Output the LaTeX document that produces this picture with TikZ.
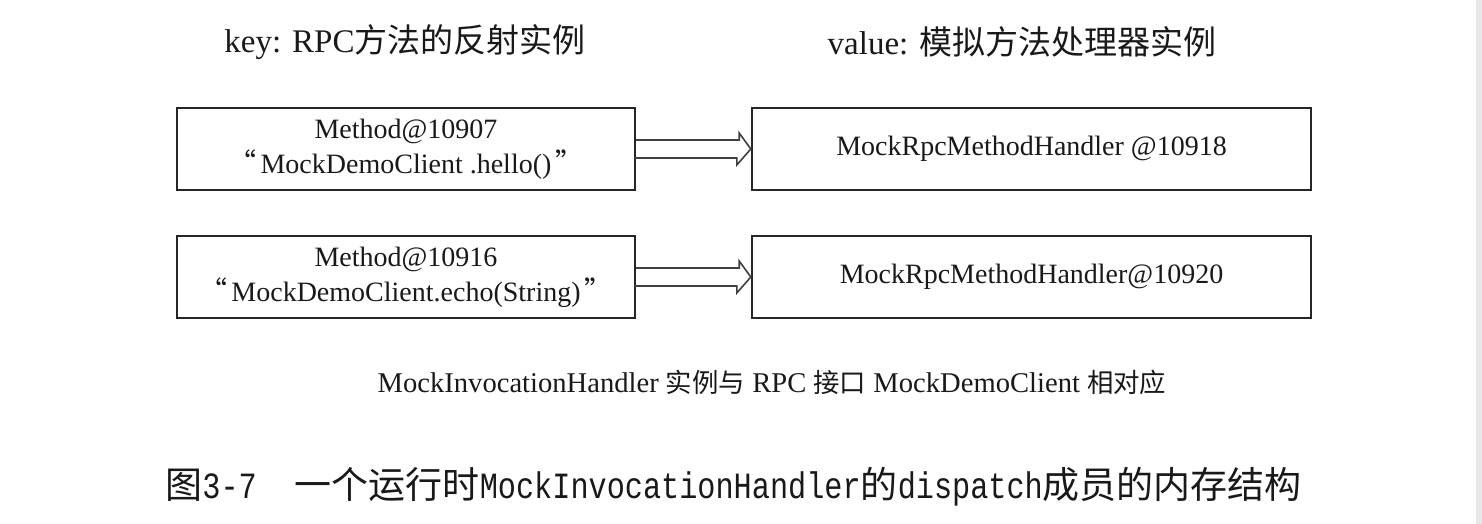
\documentclass[tikz,border=0pt]{standalone}
\usepackage{fontspec}
\setmainfont{Liberation Serif}
\newfontfamily\cjk{Noto Sans CJK SC}
\newfontfamily\capmono[FakeStretch=0.817]{Liberation Mono}
\usetikzlibrary{calc}
\tikzset{
  x=0.5pt,y=-0.5pt,
}
\tikzstyle{every node}=[text=black!90,inner sep=0pt]
\tikzstyle{membox}=[draw=black!85,line width=1.2pt,minimum height=41pt,align=center,font=\fontsize{14}{17.5}\selectfont]
\tikzstyle{keybox}=[membox,minimum width=229pt]
\tikzstyle{valbox}=[membox,minimum width=279.5pt]
\tikzstyle{maparrow}=[draw=black!75,line width=0.8pt,line join=miter]
\tikzstyle{header}=[font=\fontsize{16.5}{20}\selectfont]

\begin{document}
\begin{tikzpicture}
    \useasboundingbox (0,0) rectangle (1482,524);
    \fill[black!9] (1476,0) rectangle (1482,524);
    % column headers
    \node[header] (keyhead) at (405,42) {key: RPC{\cjk 方法的反射实例}};
    \node[header] (valhead) at (1022,42) {value: {\cjk 模拟方法处理器实例}};
    % dispatch entries
    \node[keybox] (key1) at (406,149) {Method@10907\\{\cjk “}\kern2pt MockDemoClient .hello()\kern2pt{\cjk ”}};
    \node[valbox] (val1) at (1031.5,149) {MockRpcMethodHandler @10918};
    \node[keybox] (key2) at (406,277) {Method@10916\\{\cjk “}\kern2pt MockDemoClient.echo(String)\kern2pt{\cjk ”}};
    \node[valbox] (val2) at (1031.5,277) {MockRpcMethodHandler@10920};
    \foreach \i in {1,2} {
      \draw[maparrow] (key\i.east) ++(0,-9) -- ++(103,0) -- ++(0,-7) -- (val\i.west)
        -- ++(-14,16) -- ++(0,-7) -- ++(-103,0);
    }
    \node[font=\fontsize{14.3}{17}\selectfont] (note) at (772,382)
      {MockInvocationHandler {\cjk\fontsize{13.2}{17}\selectfont 实例与} RPC {\cjk\fontsize{13.2}{17}\selectfont 接口} MockDemoClient {\cjk\fontsize{13.2}{17}\selectfont 相对应}};
    % caption
    \node[font=\cjk\fontsize{18.5}{22}\selectfont,anchor=west] (caption) at (165,487)
      {图{\capmono 3-7}\hspace{19pt}一个运行时{\capmono MockInvocationHandler}的{\capmono dispatch}成员的内存结构};
  \end{tikzpicture}
\end{document}
